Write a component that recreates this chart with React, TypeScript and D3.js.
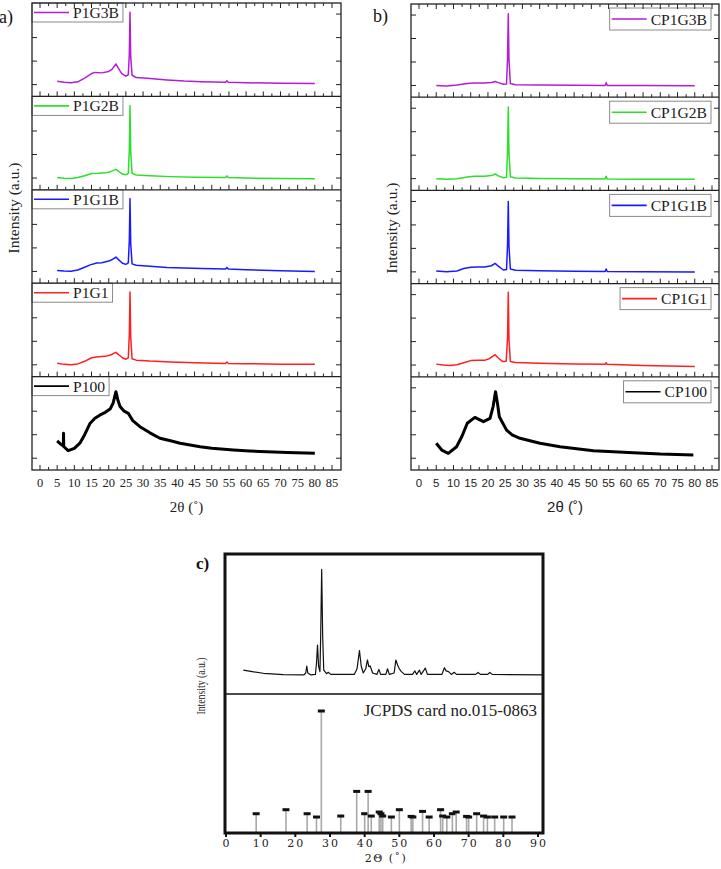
import React from 'react';
import * as d3 from 'd3';

type Pt = [number, number];

// ---- panel a (2θ, intensity a.u.) ----
const p1g3b: Pt[] = [
  [5, 0.14], [7, 0.1], [9, 0.08], [11, 0.12], [13, 0.28], [15, 0.47], [16, 0.52], [18, 0.5], [20, 0.56], [21, 0.66],
  [22.1, 0.88], [22.8, 0.7], [23.8, 0.47], [25, 0.36], [25.7, 0.42], [26.0, 1.3], [26.2, 3.08], [26.4, 1.2], [26.8, 0.4],
  [28, 0.3], [32, 0.26], [37, 0.2], [42, 0.15], [47, 0.12], [54, 0.1], [54.4, 0.16], [54.8, 0.1], [60, 0.08], [70, 0.06], [80, 0.05],
];
const p1g2b: Pt[] = [
  [5, 0.02], [7, -0.01], [9, -0.02], [11, 0.02], [13, 0.1], [15, 0.19], [17, 0.2], [19, 0.22], [20.5, 0.27], [22.1, 0.37],
  [23, 0.27], [24, 0.17], [25, 0.14], [25.7, 0.2], [26.0, 1.2], [26.2, 3.08], [26.4, 1.1], [26.8, 0.2], [28, 0.13], [32, 0.1],
  [38, 0.06], [45, 0.03], [54, 0.02], [54.4, 0.09], [54.8, 0.02], [60, 0.0], [70, -0.02], [80, -0.03],
];
const p1g1b: Pt[] = [
  [5, 0.04], [7, 0.02], [9, 0.01], [11, 0.06], [13, 0.18], [14.6, 0.28], [16.5, 0.36], [18, 0.37], [20, 0.44], [21.2, 0.52],
  [22.1, 0.61], [23, 0.48], [24, 0.35], [25, 0.3], [25.7, 0.36], [26.0, 1.3], [26.2, 3.09], [26.4, 1.2], [26.8, 0.32], [28, 0.26],
  [32, 0.22], [37, 0.17], [42, 0.15], [47, 0.13], [54, 0.1], [54.4, 0.17], [54.8, 0.1], [60, 0.07], [70, 0.03], [80, 0.0],
];
const p1g1: Pt[] = [
  [5, 0.07], [7, 0.02], [9, 0.0], [11, 0.04], [13, 0.15], [15, 0.3], [17, 0.34], [19, 0.36], [20.5, 0.42], [22.1, 0.53],
  [23, 0.42], [24, 0.3], [25, 0.24], [25.7, 0.3], [26.0, 1.3], [26.2, 3.1], [26.4, 1.2], [26.8, 0.26], [28, 0.2], [32, 0.16],
  [38, 0.12], [45, 0.09], [54, 0.06], [54.4, 0.12], [54.8, 0.06], [60, 0.05], [70, 0.03], [80, 0.02],
];
const p100: Pt[] = [
  [5, 0.74], [6, 0.6], [6.8, 0.52], [6.85, 1.06], [6.9, 0.5], [8.2, 0.32], [10, 0.42], [11.6, 0.64], [13, 1.0], [14.6, 1.49],
  [16, 1.7], [17.5, 1.84], [19, 1.95], [20.4, 2.09], [21.3, 2.35], [22.1, 2.83], [22.7, 2.45], [23.3, 2.2], [24.5, 2.0],
  [25.7, 1.91], [27, 1.6], [29.1, 1.34], [32, 1.08], [34.9, 0.85], [38, 0.74], [40.8, 0.64], [46.6, 0.49], [50, 0.42],
  [56.3, 0.35], [61, 0.31], [66, 0.28], [72, 0.24], [80, 0.21],
];

// ---- panel b ----
const cp1g3b: Pt[] = [
  [5, 0.0], [8, -0.02], [11, 0.02], [14, 0.08], [16, 0.1], [19, 0.1], [21, 0.13], [22.1, 0.17], [23, 0.12], [24.5, 0.05],
  [25.4, 0.06], [25.7, 1.2], [25.9, 3.05], [26.1, 1.1], [26.5, 0.08], [28, 0.03], [35, 0.02], [45, 0.01], [54, 0.0],
  [54.3, 0.12], [54.6, 0.0], [65, 0.0], [80, -0.01],
];
const cp1g2b: Pt[] = [
  [5, 0.0], [8, -0.02], [11, 0.0], [14, 0.07], [16, 0.1], [19, 0.1], [21, 0.13], [22.1, 0.2], [23, 0.12], [24.5, 0.04],
  [25.4, 0.06], [25.7, 1.2], [25.9, 3.05], [26.1, 1.1], [26.5, 0.08], [28, 0.03], [35, 0.01], [45, 0.0], [54, -0.01],
  [54.3, 0.1], [54.6, -0.01], [65, -0.02], [80, -0.03],
];
const cp1g1b: Pt[] = [
  [5, 0.04], [8, 0.0], [11, 0.04], [13, 0.14], [15, 0.2], [17, 0.21], [19, 0.21], [21, 0.26], [22.1, 0.36], [23, 0.24],
  [24.5, 0.08], [25.4, 0.1], [25.7, 1.2], [25.9, 3.0], [26.1, 1.1], [26.5, 0.12], [28, 0.07], [35, 0.05], [45, 0.03],
  [54, 0.02], [54.3, 0.12], [54.6, 0.02], [65, 0.0], [80, -0.01],
];
const cp1g1: Pt[] = [
  [5, 0.04], [7, 0.0], [9, -0.02], [11, 0.01], [13, 0.1], [15, 0.19], [17, 0.2], [19, 0.2], [20.5, 0.28], [22.1, 0.44],
  [23, 0.3], [24.3, 0.15], [25.3, 0.16], [25.7, 1.2], [25.9, 3.1], [26.1, 1.1], [26.5, 0.15], [28, 0.11], [35, 0.08],
  [45, 0.05], [54, 0.03], [54.3, 0.1], [54.6, 0.03], [65, -0.02], [80, -0.06],
];
const cp100: Pt[] = [
  [5, 0.64], [6.6, 0.35], [8.5, 0.21], [10.9, 0.49], [12.5, 0.95], [14, 1.49], [16.2, 1.74], [18.7, 1.56], [20.6, 1.7],
  [21.5, 2.2], [22.2, 2.83], [22.8, 2.3], [23.3, 1.77], [25.4, 1.2], [27, 1.0], [29.3, 0.85], [35.1, 0.64], [40.9, 0.49],
  [50.6, 0.32], [62.2, 0.24], [70, 0.18], [79.6, 0.14],
];

// ---- panel c ----
const measured: Pt[] = [
  [5, 17.1], [8, 15.8], [10.8, 14.8], [16.5, 13.8], [22.5, 13.6], [23.0, 15], [23.3, 20], [23.6, 15], [24.5, 13.6], [25.8, 14],
  [26.1, 22], [26.4, 35], [26.7, 20], [27.1, 16], [27.3, 40], [27.6, 89], [27.9, 40], [28.2, 17], [29.0, 14.5], [29.5, 15.5],
  [30.2, 14], [37, 14], [37.8, 18], [38.5, 31], [39.0, 20], [39.6, 15], [40.3, 18], [40.8, 24.3], [41.2, 19.5], [41.6, 20],
  [42.3, 15], [43.5, 14], [44.1, 17.6], [44.6, 14], [46.1, 14], [46.6, 18], [47.1, 14], [48.5, 15], [49.0, 24.3], [49.5, 20.7],
  [50.0, 18], [50.6, 16], [51.5, 14], [53.8, 14], [54.5, 16.5], [55.0, 14], [55.8, 17], [56.3, 14], [57.5, 18.5], [58.1, 14],
  [62.3, 14], [63.0, 18.8], [63.5, 16.5], [64.2, 16], [65, 14], [65.8, 15.5], [66.5, 14], [72.0, 14], [72.7, 15.4], [73.4, 14],
  [75.5, 14], [76.1, 15.4], [76.8, 14], [91.5, 13.6],
];
const cardPos = [8.7, 17.3, 23.4, 26.1, 27.5, 33.1, 37.7, 40.0, 41.0, 41.9, 44.2, 44.7, 45.2, 47.7, 50.0, 53.4, 53.9, 56.7,
  58.6, 61.9, 62.5, 63.7, 65.3, 66.4, 69.4, 70.0, 72.3, 74.3, 75.4, 77.5, 80.1, 82.5];
const cardInt = [15.8, 19.1, 15.8, 13.1, 100, 13.9, 34.1, 15.8, 34.1, 13.9, 17.2, 15.8, 13.9, 13.1, 19.1, 13.6, 13.1, 17.7,
  13.1, 19.1, 13.9, 13.1, 15.8, 17.2, 13.6, 13.1, 15.8, 13.9, 13.1, 13.1, 13.1, 13.1];

const ticksAB = d3.range(0, 86, 5);
const ticksC = d3.range(0, 91, 10);
const yTickVals = [0, 1, 2, 3];

const namesA = ['P1G3B', 'P1G2B', 'P1G1B', 'P1G1', 'P100'];
const namesB = ['CP1G3B', 'CP1G2B', 'CP1G1B', 'CP1G1', 'CP100'];
const colors = ['#b11ed6', '#2be02b', '#1a1aff', '#ff1f1f', '#000000'];

const SERIF = '"Liberation Serif", "Times New Roman", serif';
const SANS = '"Liberation Sans", Arial, sans-serif';

const glyphW: Record<string, number> = { C: 0.667, P: 0.556, G: 0.722, B: 0.667 };
const textW = (s: string, size: number) => d3.sum(s.split(''), (c) => glyphW[c] ?? 0.5) * size;

type StackProps = {
  left: number; right: number; top: number; bottom: number;
  xRange: [number, number];
  names: string[]; data: Pt[][];
  legendRight: boolean;
  tickFont: string; tickSize: number; titleFont: string;
  yLabelX: number; yLabelY: number;
};

function Stack(p: StackProps) {
  const x = d3.scaleLinear().domain([0, 85]).range(p.xRange);
  const h = (p.bottom - p.top) / p.data.length;
  const xt = d3.range(-2.5, 88, 2.5).filter((v) => x(v) > p.left + 1 && x(v) < p.right - 1);
  const ink = '#222';
  return (
    <g>
      {p.data.map((d, i) => {
        const t = p.top + i * h;
        const b = t + h;
        const y = d3.scaleLinear().domain([-0.5, 3.47]).range([b, t]);
        const line = d3.line<Pt>().x((q) => x(q[0])).y((q) => y(q[1]));
        const fs = 15.6;
        const tw = textW(p.names[i], fs);
        const bw = 41 + tw + 4;
        const bx = p.legendRight ? p.right - 8 - bw : p.left;
        const by = p.legendRight ? t + 4 : t;
        const bh = p.legendRight ? 22 : 19;
        const black = i === p.data.length - 1;
        return (
          <g key={i}>
            <path d={line(d) ?? ''} fill="none" stroke={colors[i]} strokeWidth={black ? 3 : 1.5} strokeLinejoin="round" />
            {xt.map((v) => (
              <line key={v} x1={x(v)} x2={x(v)} y1={b} y2={b - (v % 5 === 0 ? 5 : 3)} stroke={ink} strokeWidth={1} />
            ))}
            {yTickVals.map((v) => (
              <g key={v}>
                <line x1={p.left} x2={p.left + 5} y1={y(v)} y2={y(v)} stroke={ink} strokeWidth={1} />
                <line x1={p.right - 5} x2={p.right} y1={y(v)} y2={y(v)} stroke={ink} strokeWidth={1} />
              </g>
            ))}
            <rect x={bx} y={by} width={bw} height={bh} fill="#fff" stroke="#8a8a8a" strokeWidth={1} />
            <line x1={bx + 2} x2={bx + 37} y1={by + bh / 2} y2={by + bh / 2} stroke={colors[i]} strokeWidth={1.6} />
            <text x={bx + 41} y={by + bh / 2 + 5.5} fontFamily={SERIF} fontSize={fs} fill={ink}>{p.names[i]}</text>
            {i > 0 && <line x1={p.left} x2={p.right} y1={t} y2={t} stroke={ink} strokeWidth={1.2} />}
          </g>
        );
      })}
      {xt.map((v) => (
        <line key={v} x1={x(v)} x2={x(v)} y1={p.top} y2={p.top + (v % 5 === 0 ? 5 : 3)} stroke={ink} strokeWidth={1} />
      ))}
      <rect x={p.left} y={p.top} width={p.right - p.left} height={p.bottom - p.top} fill="none" stroke={ink} strokeWidth={1.3} />
      {ticksAB.map((v) => (
        <text key={v} x={x(v)} y={p.bottom + 17} textAnchor="middle" fontFamily={p.tickFont} fontSize={p.tickSize} fill={ink}>{v}</text>
      ))}
      <text x={(p.left + p.right) / 2} y={p.bottom + 42} textAnchor="middle" fontFamily={p.titleFont} fontSize={15} fill={ink}>2θ (˚)</text>
      <text transform={`translate(${p.yLabelX},${p.yLabelY}) rotate(-90)`} textAnchor="middle" dominantBaseline="central"
        fontFamily={SERIF} fontSize={15.5} fill={ink}>Intensity (a.u.)</text>
    </g>
  );
}

function PanelC() {
  const left = 225, right = 543, top = 554, mid = 694, bottom = 833;
  const x = d3.scaleLinear().domain([0, 90]).range([226, 538]);
  const yTop = d3.scaleLinear().domain([0, 100]).range([mid, top]);
  const yCard = d3.scaleLinear().domain([0, 100]).range([bottom, 711]);
  const line = d3.line<Pt>().x((q) => x(q[0])).y((q) => yTop(q[1]));
  const WIDE = '"DejaVu Serif", serif';
  return (
    <g>
      <path d={line(measured) ?? ''} fill="none" stroke="#111" strokeWidth={1.2} strokeLinejoin="round" />
      {cardPos.map((v, i) => (
        <g key={i}>
          <line x1={x(v)} x2={x(v)} y1={yCard(0)} y2={yCard(cardInt[i])} stroke="#a8a8a8" strokeWidth={1.6} />
          <rect x={x(v) - 3.5} y={yCard(cardInt[i]) - 1.5} width={7} height={3} fill="#111" />
        </g>
      ))}
      <line x1={left} x2={right} y1={mid} y2={mid} stroke="#111" strokeWidth={1.6} />
      <rect x={left} y={top} width={right - left} height={bottom - top} fill="none" stroke="#111" strokeWidth={3} />
      {ticksC.map((v) => (
        <g key={v}>
          <line x1={x(v)} x2={x(v)} y1={bottom} y2={bottom + 4} stroke="#111" strokeWidth={2} />
          <text x={x(v) + 1} y={bottom + 14} textAnchor="middle" fontFamily={WIDE} fontSize={11} letterSpacing={2} fill="#222">{v}</text>
        </g>
      ))}
      <text x={(left + right) / 2 + 2} y={bottom + 29} textAnchor="middle" fontFamily={WIDE} fontSize={11} letterSpacing={1.5} fill="#222">2Θ (˚)</text>
      <text x={537} y={716} textAnchor="end" fontFamily={SERIF} fontSize={17} fill="#222">JCPDS card no.015-0863</text>
      <text transform="translate(200,686) rotate(-90)" textAnchor="middle" dominantBaseline="central"
        fontFamily={SERIF} fontSize={13} textLength={57} lengthAdjust="spacingAndGlyphs" fill="#222">Intensity (a.u.)</text>
      <text x={196} y={569} fontFamily={SERIF} fontWeight="bold" fontSize={17} fill="#111">c)</text>
    </g>
  );
}

export default function App() {
  return (
    <svg width={721} height={869} style={{ position: 'absolute', left: 0, top: 0, background: '#fff' }}>
      <Stack left={32} right={341} top={3} bottom={470} xRange={[40, 332]}
        names={namesA} data={[p1g3b, p1g2b, p1g1b, p1g1, p100]} legendRight={false}
        tickFont={SERIF} tickSize={12.5} titleFont={SERIF} yLabelX={13} yLabelY={208} />
      <Stack left={411} right={719} top={4} bottom={470} xRange={[419, 712]}
        names={namesB} data={[cp1g3b, cp1g2b, cp1g1b, cp1g1, cp100]} legendRight={true}
        tickFont={SANS} tickSize={11.5} titleFont={SANS} yLabelX={391} yLabelY={228} />
      <text x={-1} y={23} fontFamily={SERIF} fontSize={18} fill="#111">a)</text>
      <text x={373} y={22} fontFamily={SERIF} fontSize={18} fill="#111">b)</text>
      <PanelC />
    </svg>
  );
}
